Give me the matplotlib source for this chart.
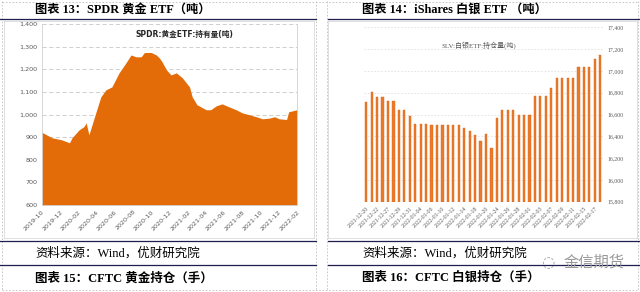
import matplotlib
matplotlib.use("Agg")
import matplotlib.pyplot as plt
from matplotlib.lines import Line2D
import pandas as pd

# SPDR gold ETF holdings (tonnes)
gold_dates = ["2019-10-01", "2019-11-04", "2019-12-06", "2020-01-01", "2020-01-10",
              "2020-02-03", "2020-02-18", "2020-02-26", "2020-03-06", "2020-03-29",
              "2020-04-15", "2020-05-02", "2020-05-22", "2020-06-15", "2020-07-08",
              "2020-07-25", "2020-08-11", "2020-08-28", "2020-09-08", "2020-10-01",
              "2020-10-18", "2020-10-28", "2020-11-06", "2020-11-21", "2020-12-06",
              "2020-12-24", "2021-01-13", "2021-02-06", "2021-02-15", "2021-03-03",
              "2021-04-03", "2021-04-18", "2021-05-06", "2021-05-26", "2021-06-18",
              "2021-07-12", "2021-08-02", "2021-08-25", "2021-09-18", "2021-10-08",
              "2021-11-01", "2021-11-18", "2021-12-03", "2021-12-28", "2022-01-04",
              "2022-02-01"]
gold_values = [921, 897, 888, 875, 898, 933, 946, 963, 910, 1007,
               1078, 1109, 1122, 1184, 1228, 1263, 1255, 1255, 1274, 1274,
               1263, 1250, 1233, 1197, 1175, 1184, 1162, 1122, 1078, 1043,
               1021, 1021, 1038, 1047, 1034, 1021, 1007, 999, 990, 981,
               984, 990, 981, 978, 1012, 1021]
gold_ticks = ["2019-10", "2019-12", "2020-02", "2020-04", "2020-06", "2020-08",
              "2020-10", "2020-12", "2021-02", "2021-04", "2021-06", "2021-08",
              "2021-10", "2021-12", "2022-02"]

# iShares SLV holdings (tonnes)
slv_dates = ["2021-12-20", "2021-12-21", "2021-12-22", "2021-12-23", "2021-12-27",
             "2021-12-28", "2021-12-29", "2021-12-30", "2021-12-31", "2022-01-03",
             "2022-01-04", "2022-01-05", "2022-01-06", "2022-01-07", "2022-01-10",
             "2022-01-11", "2022-01-12", "2022-01-13", "2022-01-14", "2022-01-17",
             "2022-01-18", "2022-01-19", "2022-01-20", "2022-01-21", "2022-01-24",
             "2022-01-25", "2022-01-26", "2022-01-27", "2022-01-28", "2022-01-31",
             "2022-02-01", "2022-02-02", "2022-02-03", "2022-02-04", "2022-02-07",
             "2022-02-08", "2022-02-09", "2022-02-10", "2022-02-11", "2022-02-14",
             "2022-02-15", "2022-02-16", "2022-02-17", "2022-02-18"]
slv_values = [16717, 16803, 16763, 16763, 16723, 16723, 16641, 16641, 16583, 16512,
              16512, 16512, 16503, 16503, 16503, 16503, 16503, 16503, 16476, 16445,
              16414, 16353, 16418, 16290, 16567, 16641, 16641, 16641, 16598, 16598,
              16598, 16766, 16766, 16766, 16840, 16931, 16931, 16931, 16931, 17032,
              17032, 17032, 17108, 17145]

W, H = 640, 292
serif = ["Liberation Serif", "Noto Sans CJK SC"]


def rect(x0, y0, x1, y1):
    return [x0 / W, 1 - y1 / H, (x1 - x0) / W, (y1 - y0) / H]


def hline(fig, x0, x1, y, **kw):
    fig.add_artist(Line2D([x0 / W, x1 / W], [1 - y / H, 1 - y / H], transform=fig.transFigure, **kw))


def vline(fig, x, y0, y1, **kw):
    fig.add_artist(Line2D([x / W, x / W], [1 - y0 / H, 1 - y1 / H], transform=fig.transFigure, **kw))


fig = plt.figure(figsize=(6.4, 2.92), dpi=100)
fig.patch.set_facecolor("white")

# page frame (dashed table cells)
dash = dict(color="#bfbfbf", lw=0.6, ls=(0, (2, 2)))
hline(fig, 2, 638, 1.5, **dash)
hline(fig, 2, 638, 290, **dash)
vline(fig, 2, 1, 290, **dash)
vline(fig, 316, 1, 290, **dash)
vline(fig, 327, 1, 290, **dash)
vline(fig, 638, 1, 290, **dash)

# chart frames
frame = dict(color="#d9d9d9", lw=0.6)
for x0, x1 in [(4, 314), (328, 637)]:
    hline(fig, x0, x1, 21, **frame)
    hline(fig, x0, x1, 238, **frame)
    vline(fig, x0, 21, 238, **frame)
    vline(fig, x1, 21, 238, **frame)

# dark rules
rule = dict(color="#1f1f4f", lw=0.9)
for y in [18.5, 241, 265]:
    hline(fig, 0, 316, y, **rule)
    hline(fig, 328, 640, y, **rule)

# headings
fig.text(35 / W, 1 - 9.5 / H, "图表 13：SPDR 黄金 ETF（吨）", family=serif, weight="bold",
         fontsize=8.8, va="center", ha="left")
fig.text(362 / W, 1 - 9.5 / H, "图表 14：iShares 白银 ETF （吨）", family=serif, weight="bold",
         fontsize=8.8, va="center", ha="left")
fig.text(35 / W, 1 - 253 / H, "资料来源：Wind，优财研究院", family=serif, fontsize=9,
         va="center", ha="left")
fig.text(362 / W, 1 - 253 / H, "资料来源：Wind，优财研究院", family=serif, fontsize=9,
         va="center", ha="left")
fig.text(35 / W, 1 - 278 / H, "图表 15：CFTC 黄金持仓（手）", family=serif, weight="bold",
         fontsize=9, va="center", ha="left")
fig.text(362 / W, 1 - 278 / H, "图表 16：CFTC 白银持仓（手）", family=serif, weight="bold",
         fontsize=9, va="center", ha="left")
# watermark
fig.text(548 / W, 1 - 263 / H, "◌", family=["DejaVu Sans"], fontsize=11, color="#a0a0a0",
         va="center", ha="center")
fig.text(594 / W, 1 - 262 / H, "金信期货", family=["Noto Sans CJK SC"], fontsize=11,
         color="#9a9a9a", va="center", ha="center")

# ---- gold area chart
ax1 = fig.add_axes(rect(42, 24, 297, 205))
gd = pd.to_datetime(gold_dates)
ax1.fill_between(gd, gold_values, 600, color="#E36C09", lw=0)
ax1.set_ylim(600, 1400)
ax1.set_xlim(gd[0], gd[-1])
ax1.set_yticks(range(600, 1401, 100))
ax1.set_yticklabels([f"{v:,}" for v in range(600, 1401, 100)])
ax1.set_xticks(pd.to_datetime([t + "-01" for t in gold_ticks]))
ax1.set_xticklabels(gold_ticks, rotation=45, ha="right", rotation_mode="anchor")
ax1.grid(axis="y", color="#c8c8c8", lw=0.6, ls=(0, (5, 3)))
ax1.set_axisbelow(True)
ax1.tick_params(length=0, labelsize=4.6, labelcolor="#595959", pad=3)
ax1.spines["top"].set_visible(False)
for s in ["left", "right", "bottom"]:
    ax1.spines[s].set_color("#d0d0d0")
    ax1.spines[s].set_linewidth(0.6)
ax1.text(0.56, 0.94, "SPDR:黄金ETF:持有量(吨)", transform=ax1.transAxes, ha="center", va="center",
         fontsize=5.5, weight="bold", family=["DejaVu Sans", "Noto Sans CJK SC"], color="#262626")

# ---- silver bar chart
ax2 = fig.add_axes(rect(363.5, 27.3, 603, 201.7))
xs = list(range(len(slv_values)))
ax2.bar(xs, [v - 15800 for v in slv_values], bottom=15800, width=0.4, color="#EC7A2A",
        edgecolor="#D9661A", lw=0.3)
ax2.set_xlim(-0.5, len(xs) - 0.5)
ax2.set_ylim(15800, 17400)
ax2.yaxis.tick_right()
ax2.set_yticks(range(15800, 17401, 200))
ax2.set_yticklabels([f"{v:,}" for v in range(15800, 17401, 200)])
ax2.set_xticks(xs[::2])
ax2.set_xticklabels(slv_dates[::2], rotation=45, ha="right", rotation_mode="anchor")
ax2.grid(axis="y", color="#e0e0e0", lw=0.6, ls=(0, (2, 2)))
ax2.set_axisbelow(True)
ax2.tick_params(length=0, labelsize=4.2, labelcolor="#595959", pad=3)
for lab in ax2.get_xticklabels() + ax2.get_yticklabels():
    lab.set_family(serif)
for s in ax2.spines.values():
    s.set_visible(False)
ax2.text(0.48, 0.9, "SLV:白银ETF:持仓量(吨)", transform=ax2.transAxes, ha="center", va="center",
         fontsize=5, family=serif, color="#595959")

fig.savefig("out.png", dpi=100)
